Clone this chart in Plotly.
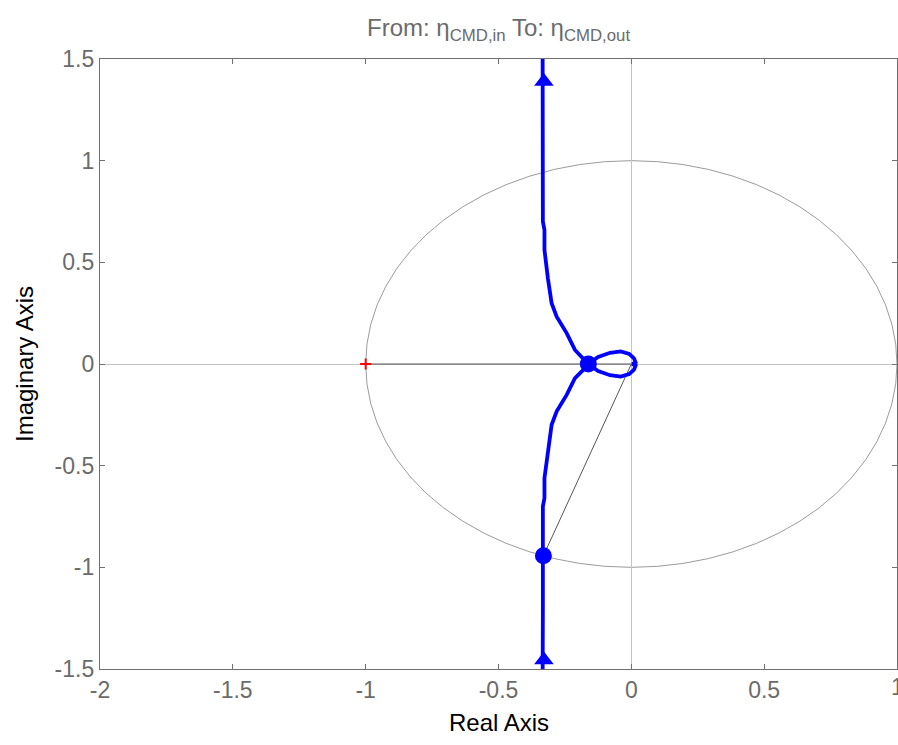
import plotly.graph_objects as go

# Positive-frequency branch of the Nyquist curve (real, imaginary), from +j-infinity to the origin
branch_re = [-0.334, -0.333, -0.333, -0.327, -0.327, -0.314, -0.300, -0.281, -0.243,
             -0.212, -0.182, -0.162, -0.125, -0.080, -0.040, -0.008, 0.010, 0.016, 0.004]
branch_im = [1.60, 1.20, 0.700, 0.659, 0.561, 0.420, 0.299, 0.233, 0.151,
             0.069, 0.030, 0.0, -0.035, -0.055, -0.062, -0.050, -0.028, -0.008, 0.0]

# Stability-margin points: real-axis crossing and unit-circle crossing
margin_re = [-0.162, -0.331]
margin_im = [0.0, -0.943]

# Direction arrows on the two branches
arrow_re = [-0.329, -0.329]
arrow_im = [1.389, -1.456]

# Critical point
crit_re = [-1.0]
crit_im = [0.0]

x_ticks = [-2, -1.5, -1, -0.5, 0, 0.5, 1]
y_ticks = [-1.5, -1, -0.5, 0, 0.5, 1, 1.5]

BLUE = "#0000ff"
FONT = "Liberation Sans, Arial, sans-serif"
TICK_GREY = "#6b6b6b"
TICK_SIZE = 23

# Full curve: positive branch, then its mirror image (negative frequencies) back out to -j-infinity
curve_re = branch_re + branch_re[::-1]
curve_im = branch_im + [-v for v in branch_im[::-1]]

fig = go.Figure()

# Gain-margin line from the critical point to the origin, phase-margin line from origin to the circle crossing
fig.add_trace(go.Scatter(x=[crit_re[0], 0], y=[crit_im[0], 0], mode="lines",
                         line=dict(color="#555555", width=1), hoverinfo="skip"))
fig.add_trace(go.Scatter(x=[0, margin_re[1]], y=[0, margin_im[1]], mode="lines",
                         line=dict(color="#555555", width=1), hoverinfo="skip"))

fig.add_trace(go.Scatter(x=curve_re, y=curve_im, mode="lines",
                         line=dict(color=BLUE, width=3.8), cliponaxis=True))
fig.add_trace(go.Scatter(x=margin_re, y=margin_im, mode="markers",
                         marker=dict(color=BLUE, size=17, line=dict(width=0))))
fig.add_trace(go.Scatter(x=arrow_re, y=arrow_im, mode="markers",
                         marker=dict(color=BLUE, size=17, symbol="triangle-up", line=dict(width=0))))
fig.add_trace(go.Scatter(x=crit_re, y=crit_im, mode="markers",
                         marker=dict(color="red", size=8, symbol="cross-thin",
                                     line=dict(color="red", width=2))))

# Unit circle
fig.add_shape(type="circle", xref="x", yref="y", x0=-1, y0=-1, x1=1, y1=1,
              line=dict(color="#8f8f8f", width=0.9), layer="below")

axis_common = dict(
    showgrid=False,
    zeroline=True, zerolinecolor="#c4c4c4", zerolinewidth=1,
    showline=True, linecolor="#707070", linewidth=1.3, mirror="ticks",
    ticks="inside", ticklen=5, tickcolor="#707070", tickwidth=1,
    tickfont=dict(family=FONT, size=TICK_SIZE, color=TICK_GREY),
    automargin=False,
)

fig.update_xaxes(range=[-2, 1], tickvals=x_ticks, ticktext=[f"{v:g}" for v in x_ticks], **axis_common)
fig.update_yaxes(range=[-1.5, 1.5], tickvals=y_ticks, ticktext=[f"{v:g}" for v in y_ticks], **axis_common)

# The last x tick label sits on the right edge of the figure and is cut by it
fig.add_annotation(text=f"{x_ticks[-1]:g}", xref="x", yref="paper", x=x_ticks[-1], y=0,
                   yshift=-18, yanchor="middle", xanchor="center", showarrow=False,
                   font=dict(family=FONT, size=TICK_SIZE, color=TICK_GREY))

fig.add_annotation(text="From: η<sub>CMD,in</sub> To: η<sub>CMD,out</sub>",
                   xref="paper", yref="paper", x=0.5, y=1, yshift=30, yanchor="middle",
                   showarrow=False, font=dict(family=FONT, size=24, color=TICK_GREY))
fig.add_annotation(text="Real Axis", xref="paper", yref="paper", x=0.5, y=0, yshift=-53,
                   yanchor="middle", showarrow=False,
                   font=dict(family=FONT, size=24, color="black"))
fig.add_annotation(text="Imaginary Axis", xref="paper", yref="paper", x=0, y=0.5, xshift=-76,
                   xanchor="center", yanchor="middle", textangle=-90, showarrow=False,
                   font=dict(family=FONT, size=24, color="black"))

fig.update_layout(
    width=898, height=745,
    margin=dict(l=100, r=1, t=59, b=76),
    paper_bgcolor="white", plot_bgcolor="white",
    showlegend=False,
)

fig.write_html("out.html")
